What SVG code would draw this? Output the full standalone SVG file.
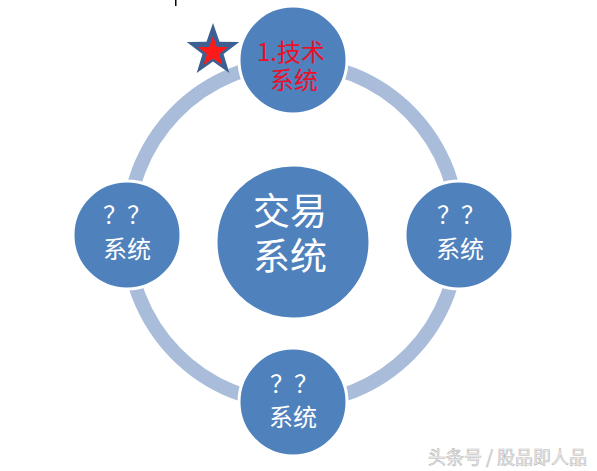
<svg xmlns="http://www.w3.org/2000/svg" width="597" height="471" viewBox="0 0 597 471">
<style>
.node{fill:#4f81bd;stroke:#ffffff;stroke-width:3}
.t{font-family:"Noto Sans CJK SC","Liberation Sans",sans-serif;fill:#ffffff;font-size:24px}
.red{fill:#e8102a}
.big{font-size:37px}
.wm{font-family:"Noto Sans CJK SC","Liberation Sans",sans-serif;font-size:18px;fill:#f4f4f4;stroke:#b9b9b9;stroke-width:0.6}
</style>
<rect width="597" height="471" fill="#ffffff"/>
<rect x="175" y="0" width="1.5" height="6" fill="#000000"/>
<g id="connectors">
<ellipse cx="293" cy="233" rx="166" ry="170" fill="none" stroke="#a9bcd9" stroke-width="14"/>
</g>
<g id="center">
<circle class="node" cx="293" cy="242" r="77"/>
<text class="t big" x="253" y="225">交易</text>
<text class="t big" x="253" y="270">系统</text>
</g>
<g id="top">
<circle class="node" cx="293" cy="60" r="54"/>
<text class="t red" x="257" y="61" font-size="23">1.技术</text>
<text class="t red" x="270" y="89">系统</text>
</g>
<g id="left">
<circle class="node" cx="127" cy="235" r="54"/>
<text class="t" x="103" y="224">？？</text>
<text class="t" x="103" y="258">系统</text>
</g>
<g id="right">
<circle class="node" cx="459" cy="235" r="54"/>
<text class="t" x="437" y="224">？？</text>
<text class="t" x="436" y="258">系统</text>
</g>
<g id="bottom">
<circle class="node" cx="293" cy="402" r="54"/>
<text class="t" x="270" y="393">？？</text>
<text class="t" x="269" y="426">系统</text>
</g>
<g id="star">
<polygon fill="#3d6092" points="213,23 219.5,41.8 239.3,42.1 223.5,54 229.3,73 213,61.6 196.7,73 202.5,54 186.7,42.1 206.5,41.8"/>
<polygon fill="#ff1a1a" points="213,36 216.8,46.9 228.2,47.1 219.1,54 222.4,65 213,58.4 203.6,65 206.9,54 197.8,47.1 209.2,46.9"/>
</g>
<text class="wm" x="428" y="464">头条号 / 股品即人品</text>
</svg>
